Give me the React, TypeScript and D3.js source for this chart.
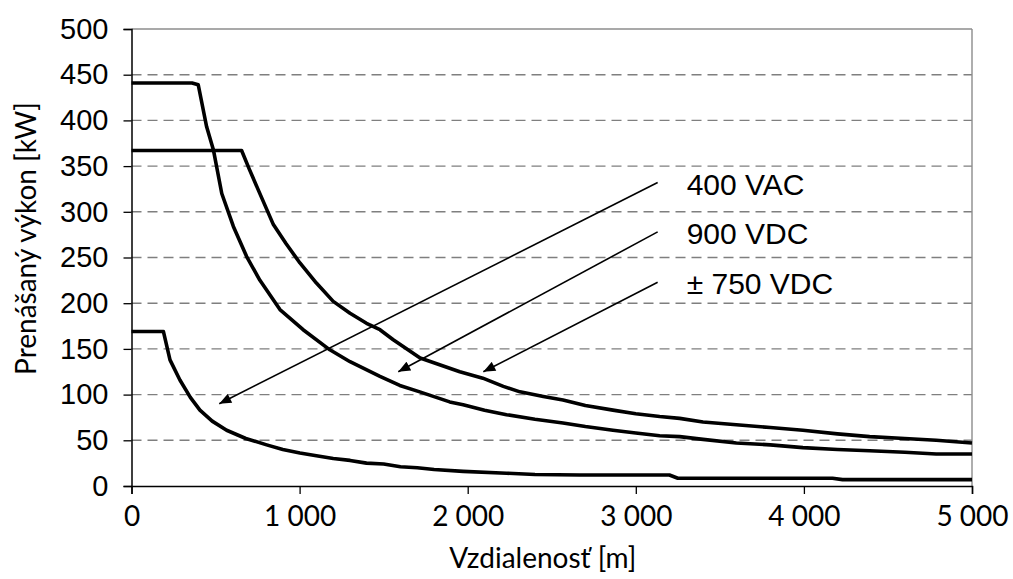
import React, { useEffect, useRef } from 'react';
import * as d3 from 'd3';

// distance [m] / power [kW]
const distVAC = [0, 190, 229, 288, 350, 407, 480, 566, 680, 804, 900, 1002, 1100, 1200, 1300, 1398, 1500, 1600, 1700, 1800, 1973, 2231, 2400, 2667, 3200, 3250, 4170, 4230, 5000];
const powerVAC = [169, 169, 138, 116, 97, 83, 71, 61, 52, 45, 40, 36, 33, 30, 28, 25, 24, 21, 20, 18, 16, 14, 12.5, 12, 12, 8.5, 8.5, 7, 7];

const dist900 = [0, 360, 397, 447, 487, 537, 606, 685, 764, 883, 1021, 1180, 1300, 1478, 1596, 1715, 1893, 1973, 2100, 2231, 2400, 2567, 2700, 2864, 3000, 3142, 3261, 3400, 3598, 3800, 3994, 4200, 4391, 4600, 4787, 5000];
const power900 = [441, 441, 439, 393, 368, 320, 284, 251, 225, 193, 171, 149, 136, 120, 110, 103, 92, 89, 83, 78, 73, 69, 65, 61, 58, 55, 54, 51, 47, 45, 42, 40, 38.6, 37, 35, 35];

const dist750 = [0, 655, 700, 754, 844, 920, 1002, 1100, 1200, 1300, 1398, 1478, 1557, 1717, 1953, 2090, 2212, 2311, 2450, 2567, 2700, 2864, 3000, 3142, 3261, 3400, 3598, 3800, 3994, 4200, 4391, 4600, 4787, 5000];
const power750 = [367, 367, 347, 324, 286, 265, 244, 222, 202, 189, 178, 171, 160, 140, 125, 118, 109, 103, 98, 94, 88, 83, 79, 76, 74, 70, 67, 64, 61, 57, 54, 52, 50, 47];

const xTicks = [0, 1000, 2000, 3000, 4000, 5000];
const yTicks = [0, 50, 100, 150, 200, 250, 300, 350, 400, 450, 500];

// annotation labels with arrow start (near label) and tip (on the curve)
const labels = ['400 VAC', '900 VDC', '± 750 VDC'];
const arrowFrom = [[3130, 332], [3130, 278], [3130, 223]];
const arrowTo = [[522, 90], [1587, 125], [2093, 125]];

const fmt = (v: number) => (v >= 1000 ? `${Math.floor(v / 1000)} ${String(v % 1000).padStart(3, '0')}` : `${v}`);

const App: React.FC = () => {
  const svgRef = useRef<SVGSVGElement | null>(null);

  useEffect(() => {
    document.body.style.margin = '0';
    if (!svgRef.current) return;
    const svg = d3.select(svgRef.current);
    svg.selectAll('*').remove();

    const width = 1013;
    const height = 579;
    const margin = { top: 29, right: 41, bottom: 93, left: 131.5 };
    const innerW = width - margin.left - margin.right;
    const innerH = height - margin.top - margin.bottom;

    const x = d3.scaleLinear().domain([0, 5000]).range([0, innerW]);
    const y = d3.scaleLinear().domain([0, 500]).range([innerH, 0]);

    svg.attr('width', width).attr('height', height).style('background', '#fff');

    svg.append('defs').append('marker')
      .attr('id', 'arrowhead')
      .attr('markerUnits', 'userSpaceOnUse')
      .attr('viewBox', '0 0 12 10')
      .attr('refX', 12)
      .attr('refY', 5)
      .attr('markerWidth', 13)
      .attr('markerHeight', 10)
      .attr('orient', 'auto')
      .append('path')
      .attr('d', 'M0,0 L12,5 L0,10 Z')
      .attr('fill', '#000');

    const g = svg.append('g').attr('transform', `translate(${margin.left},${margin.top})`);

    // gridlines
    g.selectAll('line.grid')
      .data(yTicks.filter(t => t > 0 && t < 500))
      .enter()
      .append('line')
      .attr('class', 'grid')
      .attr('x1', 0)
      .attr('x2', innerW)
      .attr('y1', d => y(d))
      .attr('y2', d => y(d))
      .attr('stroke', '#7f7f7f')
      .attr('stroke-width', 1.4)
      .attr('stroke-dasharray', '10,6');

    // top and right frame
    g.append('line').attr('x1', 0).attr('x2', innerW).attr('y1', y(500)).attr('y2', y(500))
      .attr('stroke', '#8c8c8c').attr('stroke-width', 1.4);
    g.append('line').attr('x1', innerW).attr('x2', innerW).attr('y1', 0).attr('y2', innerH)
      .attr('stroke', '#8c8c8c').attr('stroke-width', 1.4);

    // y axis
    const yAxis = g.append('g')
      .call(d3.axisLeft(y).tickValues(yTicks).tickSize(8).tickPadding(15).tickFormat(d => fmt(d as number)));
    yAxis.select('.domain').attr('stroke', '#000').attr('stroke-width', 1.5);
    yAxis.selectAll('.tick line').attr('stroke', '#000').attr('stroke-width', 1.3);
    yAxis.selectAll('text')
      .attr('fill', '#000')
      .style('font-family', '"Liberation Sans", Arial, sans-serif')
      .style('font-size', '29px');

    // x axis
    const xAxis = g.append('g')
      .attr('transform', `translate(0,${innerH})`)
      .call(d3.axisBottom(x).tickValues(xTicks).tickSize(8).tickPadding(12).tickFormat(d => fmt(d as number)));
    xAxis.select('.domain').attr('stroke', '#000').attr('stroke-width', 1.5);
    xAxis.selectAll('.tick line').attr('stroke', '#000').attr('stroke-width', 1.3);
    xAxis.selectAll('text')
      .attr('fill', '#000')
      .style('font-family', 'Lato, "Open Sans", sans-serif')
      .style('font-size', '28px');

    // curves
    const line = d3.line<[number, number]>().x(d => x(d[0])).y(d => y(d[1]));
    const series: [number[], number[]][] = [[distVAC, powerVAC], [dist900, power900], [dist750, power750]];
    series.forEach(([xs, ys]) => {
      g.append('path')
        .datum(xs.map((v, i) => [v, ys[i]] as [number, number]))
        .attr('d', line)
        .attr('fill', 'none')
        .attr('stroke', '#000')
        .attr('stroke-width', 3.6)
        .attr('stroke-linejoin', 'round');
    });

    // annotation arrows and labels
    labels.forEach((lab, i) => {
      g.append('line')
        .attr('x1', x(arrowFrom[i][0]))
        .attr('y1', y(arrowFrom[i][1]))
        .attr('x2', x(arrowTo[i][0]))
        .attr('y2', y(arrowTo[i][1]))
        .attr('stroke', '#000')
        .attr('stroke-width', 1.6)
        .attr('marker-end', 'url(#arrowhead)');
      g.append('text')
        .attr('x', x(arrowFrom[i][0]) + 29)
        .attr('y', y(arrowFrom[i][1]) + 12)
        .attr('fill', '#000')
        .style('font-family', '"Liberation Sans", Arial, sans-serif')
        .style('font-size', '30px')
        .text(lab);
    });

    // axis titles
    svg.append('text')
      .attr('x', margin.left + innerW / 2 - 9)
      .attr('y', 568)
      .attr('text-anchor', 'middle')
      .attr('fill', '#000')
      .style('font-family', 'Lato, "Open Sans", sans-serif')
      .style('font-size', '28px')
      .text('Vzdialenosť [m]');

    svg.append('text')
      .attr('transform', 'translate(36,238.5) rotate(-90)')
      .attr('text-anchor', 'middle')
      .attr('fill', '#000')
      .style('font-family', 'Lato, "Open Sans", sans-serif')
      .style('font-size', '28px')
      .text('Prenášaný výkon [kW]');
  }, []);

  return (
    <div>
      <svg ref={svgRef} />
    </div>
  );
};

export default App;
